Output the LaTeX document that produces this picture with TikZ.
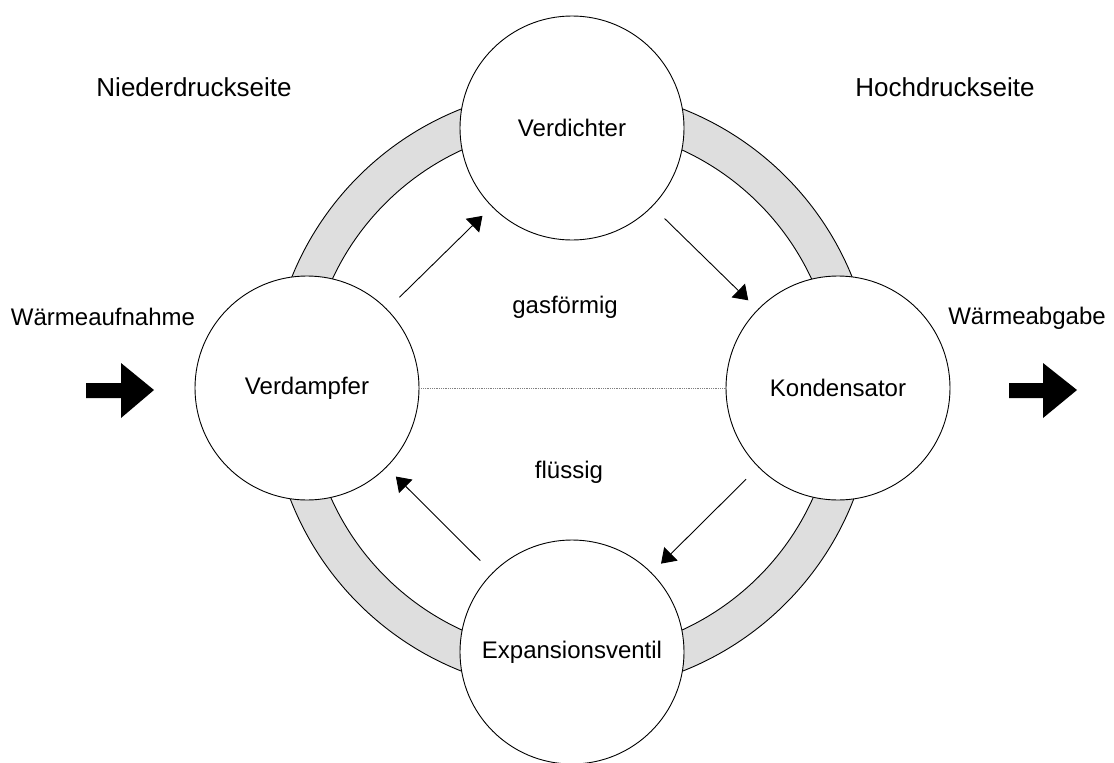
\documentclass[tikz,border=0pt]{standalone}
\usepackage{fontspec}
\setmainfont{Liberation Sans}
\usetikzlibrary{arrows.meta}
\definecolor{ringgray}{HTML}{DEDEDE}
\begin{document}
\begin{tikzpicture}[x=1pt,y=-1pt,
  unit/.style={circle, draw=black, fill=white, line width=0.9pt, minimum size=224pt, inner sep=0pt,
    font=\fontsize{24pt}{28pt}\selectfont},
  lbl/.style={font=\fontsize{24pt}{28pt}\selectfont, inner sep=0pt, text height=17pt, text depth=0pt},
  sidelbl/.style={font=\fontsize{26pt}{30pt}\selectfont, inner sep=0pt, text height=18.6pt, text depth=0pt},
  flow/.style={line width=0.9pt, -{Triangle[length=14pt,width=19pt]}, shorten <=17pt, shorten >=13pt},
  dotline/.style={gray, line width=0.8pt, densely dotted},
  fatarrow/.style={fill=black}]
\useasboundingbox (0,0) rectangle (1114,763);
\fill[white] (0,0) rectangle (1114,763);
% ring
\path[fill=ringgray, draw=black, line width=0.9pt, even odd rule]
  (572,390) circle[radius=302pt] (572,390) circle[radius=264pt];
% units
\node[unit] (verdi) at (572,128) {Verdichter};
\node[unit] (verd)  at (307,388) {Verdampfer};
\node[unit] (kond)  at (838,388) {Kondensator};
\node[unit] (exp)   at (572,652) {Expansionsventil};
% dotted separation
\draw[dotline] (verd) -- (kond);
% flow arrows
\draw[flow] (verd) -- (verdi);
\draw[flow] (verdi) -- (kond);
\draw[flow] (kond) -- (exp);
\draw[flow] (exp) -- (verd);
% labels
\node[sidelbl] (nds)  at (194,87)  {Niederdruckseite};
\node[sidelbl] (hds)  at (945,87)  {Hochdruckseite};
\node[lbl] (wauf) at (103,317) {Wärmeaufnahme};
\node[lbl] (wab)  at (1027,316) {Wärmeabgabe};
\node[lbl] (gas)  at (565,305) {gasförmig};
\node[lbl] (fl)   at (569,470) {flüssig};
% heat arrows
\fill[fatarrow] (86,383) -- (121,383) -- (121,363) -- (154,390) -- (121,418) -- (121,398) -- (86,398) -- cycle;
\fill[fatarrow] (1009,383) -- (1043,383) -- (1043,363) -- (1077,390) -- (1043,418) -- (1043,398) -- (1009,398) -- cycle;
\end{tikzpicture}
\end{document}
